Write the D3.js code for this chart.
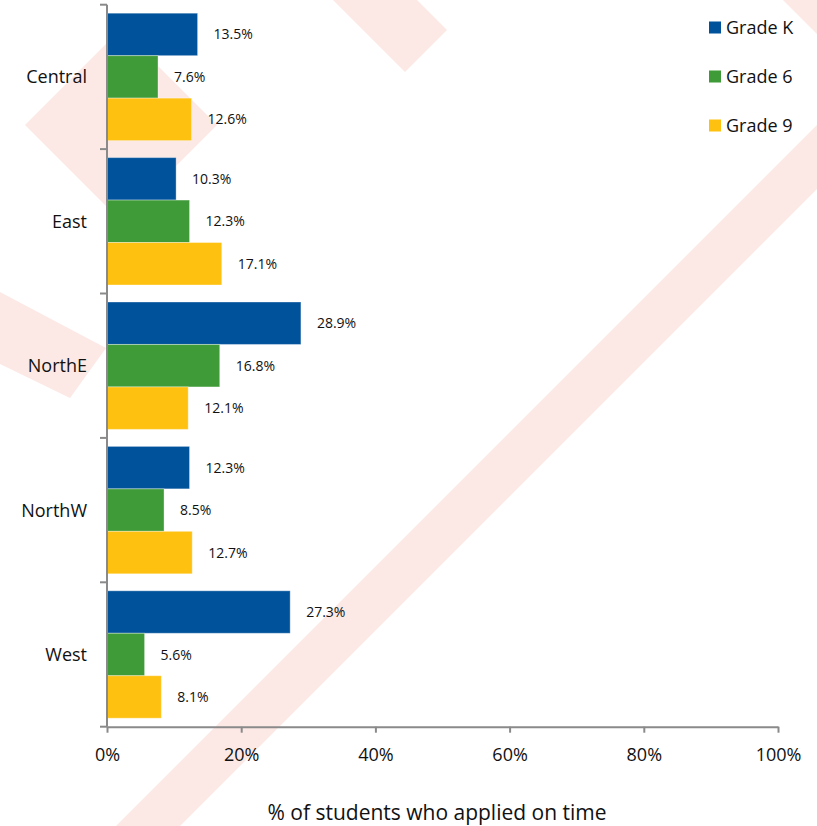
<!DOCTYPE html>
<html><head><meta charset="utf-8">
<script src="https://cdn.jsdelivr.net/npm/d3@7"></script>
<style>body{margin:0;background:#fff} svg{display:block}</style>
</head><body>
<script>
const regions = ["Central", "East", "NorthE", "NorthW", "West"];
const series = ["Grade K", "Grade 6", "Grade 9"];
const gradeK = [13.5, 10.3, 28.9, 12.3, 27.3];
const grade6 = [7.6, 12.3, 16.8, 8.5, 5.6];
const grade9 = [12.6, 17.1, 12.1, 12.7, 8.1];
const xTicks = [0, 20, 40, 60, 80, 100];
const colors = ["#00529b", "#3e9b37", "#fec110"];
const axisTitle = "% of students who applied on time";

const W = 817, H = 826;
const font = "'Open Sans', sans-serif";
const axisColor = "#8a8a8a";

const table = regions.map((r, i) => ({region: r, values: [gradeK[i], grade6[i], grade9[i]]}));

const svg = d3.select("body").append("svg").attr("width", W).attr("height", H)
  .style("font-family", font);

// background watermark (decorative)
const wm = svg.append("g").attr("fill", "#fce9e5");
const polys = [
  [[942 - 826, 826], [1006 - 826, 826], [817, 1006 - 817], [817, 942 - 817]],
  [[333, 0], [417, 0], [447, 30], [405, 72]],
  [[25, 125], [121, 29], [217, 125], [121, 221]],
  [[0, 292], [106, 348], [70, 398], [0, 364]],
  [[783, 0], [817, 0], [817, 34]]
];
polys.forEach(p => wm.append("polygon").attr("points", p.map(q => q.join(",")).join(" ")));

const x = d3.scaleLinear().domain([0, 100]).range([107, 778]);
const y = d3.scaleBand().domain(regions).range([4.7, 726.7]).padding(0);
const sub = d3.scaleBand().domain(series).range([8.5, y.bandwidth() - 8.5]).padding(0);

// bars
const groups = svg.append("g").selectAll("g").data(table).join("g")
  .attr("transform", d => `translate(0,${y(d.region)})`);

groups.selectAll("rect").data(d => d.values.map((v, j) => ({s: series[j], v, c: colors[j]})))
  .join("rect")
  .attr("x", x(0))
  .attr("y", d => sub(d.s))
  .attr("width", d => x(d.v) - x(0))
  .attr("height", sub.bandwidth())
  .attr("fill", d => d.c)
  .attr("stroke", "rgba(255,255,255,0.35)")
  .attr("stroke-width", 1);

groups.selectAll("text").data(d => d.values.map((v, j) => ({s: series[j], v})))
  .join("text")
  .attr("x", d => x(d.v) + 16)
  .attr("y", d => sub(d.s) + sub.bandwidth() / 2)
  .attr("dy", "0.36em")
  .attr("font-size", 14)
  .attr("fill", "#111")
  .text(d => d.v.toFixed(1) + "%");

// x axis
const xAxis = svg.append("g").attr("transform", `translate(0,${y.range()[1]})`)
  .call(d3.axisBottom(x).tickValues(xTicks).tickFormat(d => d + "%").tickSize(6).tickSizeOuter(0).tickPadding(16));
xAxis.select(".domain").attr("stroke", axisColor).attr("stroke-width", 2);
xAxis.selectAll(".tick line").attr("stroke", axisColor).attr("stroke-width", 2);
xAxis.selectAll(".tick text").attr("font-size", 18).attr("font-family", font).attr("fill", "#111");

// y axis (category boundaries)
const yAxis = svg.append("g");
yAxis.append("line").attr("x1", x(0)).attr("x2", x(0))
  .attr("y1", y.range()[0]).attr("y2", y.range()[1])
  .attr("stroke", axisColor).attr("stroke-width", 2);
const edges = regions.map(r => y(r)).concat([y.range()[1]]);
yAxis.selectAll("line.tk").data(edges).join("line").attr("class", "tk")
  .attr("x1", x(0) - 7).attr("x2", x(0)).attr("y1", d => d).attr("y2", d => d)
  .attr("stroke", axisColor).attr("stroke-width", 2);
yAxis.selectAll("text").data(regions).join("text")
  .attr("x", 87).attr("y", d => y(d) + y.bandwidth() / 2).attr("dy", "0.36em")
  .attr("text-anchor", "end").attr("font-size", 18).attr("fill", "#111")
  .text(d => d);

// axis title
svg.append("text").attr("x", 437).attr("y", 820).attr("text-anchor", "middle")
  .attr("font-size", 21).attr("fill", "#111").text(axisTitle);

// legend
const leg = svg.append("g").selectAll("g").data(series).join("g")
  .attr("transform", (d, i) => `translate(709,${27.5 + i * 49})`);
leg.append("rect").attr("x", 0).attr("y", -6).attr("width", 12).attr("height", 12)
  .attr("fill", (d, i) => colors[i]);
leg.append("text").attr("x", 17).attr("dy", "0.36em").attr("font-size", 18).attr("fill", "#111")
  .text(d => d);
</script>
</body></html>
